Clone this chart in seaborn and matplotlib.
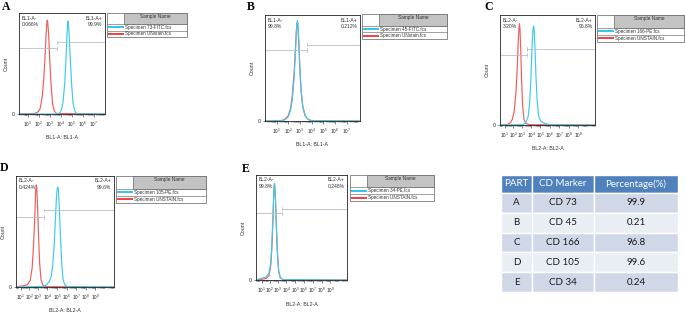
import numpy as np
import pandas as pd
import matplotlib
matplotlib.use("Agg")
import matplotlib.pyplot as plt
import seaborn as sns
from matplotlib.patches import Rectangle

W, H = 685, 316

# ---------------- data (x in display decades, y as fraction of max count) ----------------
a_x_red = [0.2, 1.6, 1.9, 2.1, 2.3, 2.45, 2.55, 2.65, 2.72, 2.76, 2.8, 2.88, 2.98, 3.1, 3.25, 3.4, 3.6, 8.0]
a_y_red = [0, 0.005, 0.02, 0.05, 0.17, 0.36, 0.55, 0.78, 0.9, 0.93, 0.91, 0.8, 0.55, 0.3, 0.1, 0.03, 0.005, 0]
a_x_cyan = [0.2, 3.6, 3.9, 4.05, 4.2, 4.35, 4.47, 4.56, 4.62, 4.65, 4.69, 4.76, 4.86, 4.98, 5.12, 5.3, 5.5, 8.0]
a_y_cyan = [0, 0, 0.01, 0.04, 0.12, 0.3, 0.55, 0.78, 0.9, 0.92, 0.9, 0.78, 0.55, 0.3, 0.1, 0.02, 0, 0]

b_x_red = [0.02, 1.4, 1.7, 2.0, 2.2, 2.35, 2.5, 2.6, 2.7, 2.75, 2.78, 2.82, 2.9, 3.0, 3.1, 3.25, 3.45, 3.7, 4.0, 8.1]
b_y_red = [0, 0.004, 0.015, 0.05, 0.12, 0.24, 0.45, 0.65, 0.86, 0.92, 0.93, 0.9, 0.75, 0.48, 0.28, 0.13, 0.05, 0.015, 0.003, 0]
b_x_cyan = [0.02, 1.4, 1.7, 2.0, 2.2, 2.35, 2.5, 2.6, 2.7, 2.76, 2.79, 2.83, 2.9, 3.0, 3.1, 3.25, 3.45, 3.7, 4.0, 8.1]
b_y_cyan = [0, 0.003, 0.01, 0.04, 0.1, 0.2, 0.4, 0.6, 0.85, 0.93, 0.946, 0.92, 0.78, 0.5, 0.3, 0.14, 0.05, 0.015, 0.003, 0]

c_x_red = [0.7, 1.5, 1.8, 2.0, 2.2, 2.4, 2.55, 2.65, 2.72, 2.77, 2.82, 2.9, 3.0, 3.1, 3.25, 3.45, 3.8, 10.8]
c_y_red = [0, 0.005, 0.02, 0.05, 0.12, 0.3, 0.55, 0.78, 0.89, 0.92, 0.88, 0.7, 0.4, 0.18, 0.05, 0.015, 0.003, 0]
c_x_cyan = [0.7, 3.0, 3.3, 3.5, 3.7, 3.85, 3.97, 4.08, 4.18, 4.24, 4.28, 4.33, 4.42, 4.52, 4.65, 4.8, 5.0, 5.3, 5.7, 6.1, 10.8]
c_y_cyan = [0, 0.003, 0.01, 0.03, 0.08, 0.2, 0.4, 0.65, 0.84, 0.89, 0.9, 0.87, 0.7, 0.45, 0.22, 0.09, 0.04, 0.02, 0.008, 0.002, 0]

d_x_red = [0.75, 1.0, 1.5, 1.9, 2.2, 2.4, 2.55, 2.67, 2.76, 2.81, 2.84, 2.88, 2.96, 3.06, 3.18, 3.32, 3.5, 3.8, 10.9]
d_y_red = [0, 0.005, 0.012, 0.02, 0.06, 0.17, 0.38, 0.62, 0.84, 0.91, 0.92, 0.9, 0.75, 0.48, 0.22, 0.07, 0.02, 0.003, 0]
d_x_cyan = [0.75, 3.6, 3.9, 4.2, 4.4, 4.55, 4.7, 4.82, 4.93, 5.02, 5.08, 5.13, 5.22, 5.34, 5.48, 5.62, 5.8, 6.1, 10.9]
d_y_cyan = [0, 0.005, 0.02, 0.05, 0.1, 0.2, 0.38, 0.6, 0.8, 0.89, 0.9, 0.88, 0.74, 0.48, 0.22, 0.07, 0.02, 0.003, 0]

e_x_red = [0.55, 0.9, 1.3, 1.7, 2.0, 2.2, 2.35, 2.46, 2.55, 2.61, 2.64, 2.68, 2.76, 2.86, 2.98, 3.12, 3.3, 3.6, 10.85]
e_y_red = [0, 0.003, 0.008, 0.015, 0.04, 0.12, 0.3, 0.55, 0.78, 0.89, 0.91, 0.89, 0.77, 0.52, 0.26, 0.09, 0.025, 0.004, 0]
e_x_cyan = [0.55, 0.9, 1.3, 1.7, 2.0, 2.2, 2.35, 2.46, 2.55, 2.61, 2.64, 2.68, 2.76, 2.86, 2.98, 3.12, 3.3, 3.6, 10.85]
e_y_cyan = [0, 0.01, 0.02, 0.03, 0.06, 0.15, 0.35, 0.58, 0.8, 0.9, 0.92, 0.9, 0.76, 0.5, 0.24, 0.08, 0.02, 0.003, 0]

# gate: split position, left gate height, right gate height
a_gate = [3.62, 0.65, 0.71]
b_gate = [3.59, 0.67, 0.72]
c_gate = [3.56, 0.64, 0.69]
d_gate = [3.68, 0.63, 0.69]
e_gate = [3.48, 0.635, 0.68]

neg_pct = ["0.066%", "99.8%", "3.20%", "0.424%", "99.8%"]
pos_pct = ["99.9%", "0.212%", "96.8%", "99.6%", "0.248%"]
channels = ["BL1-A", "BL1-A", "BL2-A", "BL2-A", "BL2-A"]
stained_files = ["Specimen 73-FITC.fcs", "Specimen 45-FITC.fcs", "Specimen 166-PE.fcs",
                 "Specimen 105-PE.fcs", "Specimen 34-PE.fcs"]
unstained_files = ["Specimen UNstain.fcs", "Specimen UNstain.fcs", "Specimen UNSTAIN.fcs",
                   "Specimen UNSTAIN.fcs", "Specimen UNSTAIN.fcs"]
panel_letters = ["A", "B", "C", "D", "E"]

ticks_ab = [1, 2, 3, 4, 5, 6, 7]
ticklabels_ab = ["$10^{%d}$" % k for k in range(1, 8)]
ticks_cde = [1.2, 2.1, 3, 4, 5, 6, 7, 8, 9]
ticklabels_cde = ["$10^{%d}$" % k for k in range(1, 10)]

table_header = ["PART", "CD Marker", "Percentage(%)"]
table_part = ["A", "B", "C", "D", "E"]
table_marker = ["CD 73", "CD 45", "CD 166", "CD 105", "CD 34"]
table_pct = ["99.9", "0.21", "96.8", "99.6", "0.24"]

# ---------------- styling ----------------
sns.set_theme(style="white")
plt.rcParams['font.family'] = ['Liberation Sans', 'DejaVu Sans']
plt.rcParams['mathtext.fontset'] = 'custom'
plt.rcParams['mathtext.rm'] = 'Liberation Sans'

CYAN = '#3CCBEA'
RED = '#F25C5C'
CYAN_L = '#1EC0F0'
RED_L = '#F03030'
GATE = '#B7BECB'
TXT = '#333333'

fig = plt.figure(figsize=(W / 100, H / 100), dpi=100)
fig.patch.set_facecolor('white')


def px_axes(l, t, r, b):
    return fig.add_axes([l / W, 1 - b / H, (r - l) / W, (b - t) / H])


def panel(i, rect, xlim, ticks, ticklabels, rx, ry, cx, cy, gate):
    ax = px_axes(*rect)
    wpx, hpx = rect[2] - rect[0], rect[3] - rect[1]
    df = pd.DataFrame({
        'x': list(rx) + list(cx),
        'y': list(ry) + list(cy),
        's': ['unstained'] * len(rx) + ['stained'] * len(cx),
    })
    sns.lineplot(data=df, x='x', y='y', hue='s', hue_order=['unstained', 'stained'],
                 palette={'unstained': RED, 'stained': CYAN}, estimator=None, sort=False,
                 lw=0.85, legend=False, ax=ax)
    ax.set_xlim(*xlim)
    ax.set_ylim(0, 1)
    ax.set_xlabel('')
    ax.set_ylabel('')
    for s in ax.spines.values():
        s.set_color('#222222')
        s.set_linewidth(0.6)
    ax.set_xticks(ticks)
    ax.set_xticklabels(ticklabels)
    lo = int(np.floor(xlim[0]))
    minors = [k + np.log10(m) for k in range(max(lo, 0), int(np.ceil(xlim[1])) + 1) for m in range(2, 10)]
    minors = [m for m in minors if xlim[0] < m < xlim[1]]
    ax.set_xticks(minors, minor=True)
    ax.set_yticks([0])
    ax.set_yticklabels(['0'])
    ax.tick_params(axis='x', which='major', direction='out', length=2.2, width=0.4,
                   labelsize=3.4, pad=1.8, colors='#222222', bottom=True)
    ax.tick_params(axis='x', which='minor', direction='out', length=1.3, width=0.3,
                   colors='#444444', bottom=True)
    ax.tick_params(axis='y', which='major', direction='out', length=1.8, width=0.4,
                   labelsize=3.8, pad=1.5, colors='#222222', left=True)
    # gates
    gx, gl, gr = gate
    ax.plot([xlim[0], gx], [gl, gl], color=GATE, lw=0.6)
    ax.plot([gx, gx], [gl - 0.015, gl + 0.015], color=GATE, lw=0.6)
    ax.plot([gx, xlim[1]], [gr, gr], color=GATE, lw=0.6)
    ax.plot([gx, gx], [gr - 0.015, gr + 0.015], color=GATE, lw=0.6)
    ch = channels[i]
    ax.text(2.5 / wpx, 1 - 2.5 / hpx, f"{ch}-\n{neg_pct[i]}", transform=ax.transAxes,
            fontsize=3.6, color=TXT, ha='left', va='top', linespacing=1.3)
    ax.text(1 - 2.5 / wpx, 1 - 2.5 / hpx, f"{ch}+\n{pos_pct[i]}", transform=ax.transAxes,
            fontsize=3.6, color=TXT, ha='right', va='top', linespacing=1.3)
    ax.text(0.5, -24 / hpx, f"{ch}: {ch}", transform=ax.transAxes, fontsize=3.8,
            color=TXT, ha='center', va='center')
    ax.text(-13 / wpx, 0.5, "Count", transform=ax.transAxes, fontsize=3.8,
            color=TXT, ha='center', va='center', rotation=90)
    return ax


panel(0, (19, 13, 105, 114), (0.18, 8.03), ticks_ab, ticklabels_ab, a_x_red, a_y_red, a_x_cyan, a_y_cyan, a_gate)
panel(1, (265, 15, 360, 121), (0.01, 8.15), ticks_ab, ticklabels_ab, b_x_red, b_y_red, b_x_cyan, b_y_cyan, b_gate)
panel(2, (500, 15, 595, 125), (0.7, 10.8), ticks_cde, ticklabels_cde, c_x_red, c_y_red, c_x_cyan, c_y_cyan, c_gate)
panel(3, (16, 176, 114, 287), (0.72, 10.93), ticks_cde, ticklabels_cde, d_x_red, d_y_red, d_x_cyan, d_y_cyan, d_gate)
panel(4, (256, 175, 347, 280), (0.54, 10.9), ticks_cde, ticklabels_cde, e_x_red, e_y_red, e_x_cyan, e_y_cyan, e_gate)

# ---------------- overlay: legends and panel letters ----------------
ov = fig.add_axes([0, 0, 1, 1], zorder=10)
ov.set_xlim(0, W)
ov.set_ylim(H, 0)
ov.axis('off')


def legend_box(i, l, t, r, b):
    hb = t + (b - t) * 0.47
    r1 = hb + (b - hb) / 2
    cw = l + 17
    ov.add_patch(Rectangle((cw, t), r - cw, hb - t, fc='#C3C3C3', ec='#7A7A7A', lw=0.6))
    ov.add_patch(Rectangle((l, t), r - l, b - t, fc='none', ec='#7A7A7A', lw=0.6))
    ov.plot([l, r], [hb, hb], color='#7A7A7A', lw=0.5)
    ov.plot([l, r], [r1, r1], color='#7A7A7A', lw=0.5)
    ov.text((cw + r) / 2, t + 3.2, "Sample Name", fontsize=3.4, color=TXT, ha='center', va='center')
    y1 = (hb + r1) / 2
    y2 = (r1 + b) / 2
    ov.plot([l + 0.8, cw], [y1, y1], color=CYAN_L, lw=1.3, solid_capstyle='butt')
    ov.plot([l + 0.8, cw], [y2, y2], color=RED_L, lw=1.3, solid_capstyle='butt')
    ov.text(cw + 1, y1, stained_files[i], fontsize=3.3, color=TXT, ha='left', va='center')
    ov.text(cw + 1, y2, unstained_files[i], fontsize=3.3, color=TXT, ha='left', va='center')


legend_box(0, 107, 13, 187, 37)
legend_box(1, 362, 14, 447, 39)
legend_box(2, 597, 15, 684, 42)
legend_box(3, 116, 176, 206, 203)
legend_box(4, 350, 175, 434, 201)

letter_pos = [(6, 7.5), (251, 7), (489, 7.5), (4.5, 168), (246, 169)]
for letter, (x, y) in zip(panel_letters, letter_pos):
    ov.text(x, y, letter, fontsize=8.5, fontweight='bold', ha='center', va='center',
            family=['Liberation Serif', 'DejaVu Serif'], color='black')

# ---------------- table ----------------
axt = px_axes(501, 175, 678, 292)
axt.axis('off')
cell_text = [[p, m, v] for p, m, v in zip(table_part, table_marker, table_pct)]
tab = axt.table(cellText=cell_text, colLabels=table_header, cellLoc='center',
                bbox=[0, 0, 1, 1])
tab.auto_set_font_size(False)
col_w = [31, 62, 84]
for (r, c), cell in tab.get_celld().items():
    cell.set_width(col_w[c])
    cell.set_height(18 if r == 0 else 20)
    cell.set_edgecolor('white')
    cell.set_linewidth(1.0)
    txt = cell.get_text()
    txt.set_fontfamily(['Lato', 'DejaVu Sans'])
    txt.set_fontsize(7)
    if r == 0:
        cell.set_facecolor('#4F81BD')
        txt.set_color('white')
    else:
        cell.set_facecolor('#D0D8E8' if r % 2 == 1 else '#E9EDF4')
        txt.set_color('#1a1a1a')

fig.savefig('out.png', dpi=100, facecolor='white')
